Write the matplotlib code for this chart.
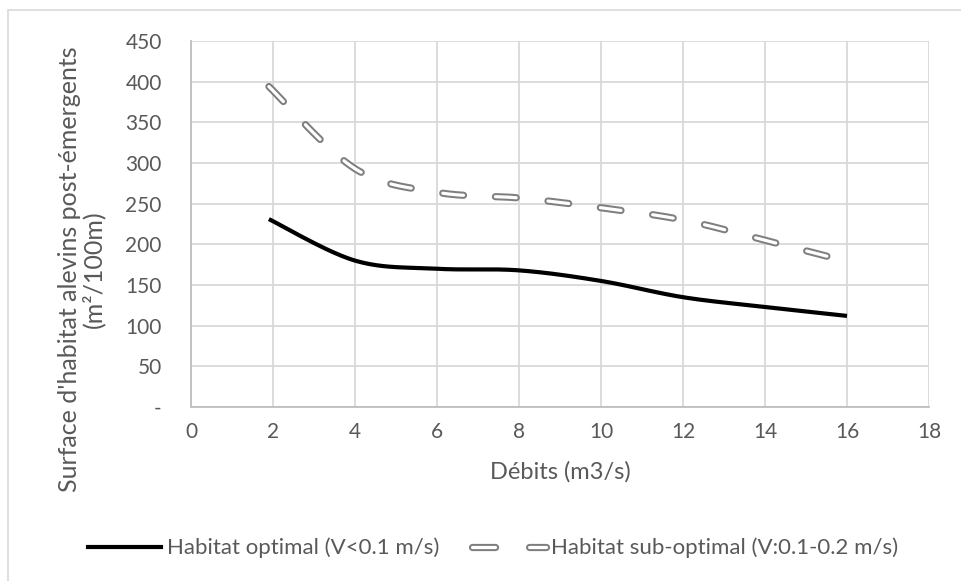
import numpy as np
import matplotlib
matplotlib.use("Agg")
import matplotlib.pyplot as plt
from matplotlib.lines import Line2D
from matplotlib.patches import Rectangle

# data
debits = [1.9, 4, 6, 8, 10, 12, 14, 16]
habitat_optimal = [231, 180, 170, 168, 155, 135, 123, 112]
habitat_sub_optimal = [394, 293, 264, 257, 245, 230, 205, 179]

y_ticks = [0, 50, 100, 150, 200, 250, 300, 350, 400, 450]
y_tick_labels = ['-', '50', '100', '150', '200', '250', '300', '350', '400', '450']
x_ticks = [0, 2, 4, 6, 8, 10, 12, 14, 16, 18]

TEXT = '#595959'
GRID = '#d9d9d9'
plt.rcParams['font.family'] = ['Lato', 'DejaVu Sans']
plt.rcParams['lines.scale_dashes'] = False


def smooth(x, y, n=40):
    """Excel-like smoothed line (Catmull-Rom bezier through the points)."""
    p = np.column_stack([np.asarray(x, float), np.asarray(y, float)])
    t = np.linspace(0, 1, n)[:, None]
    pts = []
    for i in range(len(p) - 1):
        p0 = p[i - 1] if i > 0 else p[i]
        p3 = p[i + 2] if i + 2 < len(p) else p[i + 1]
        c1 = p[i] + (p[i + 1] - p0) / 6
        c2 = p[i + 1] - (p3 - p[i]) / 6
        seg = (1 - t) ** 3 * p[i] + 3 * (1 - t) ** 2 * t * c1 + 3 * (1 - t) * t ** 2 * c2 + t ** 3 * p[i + 1]
        pts.append(seg if i == 0 else seg[1:])
    pts = np.vstack(pts)
    return pts[:, 0], pts[:, 1]


W, H = 962, 581
fig = plt.figure(figsize=(W / 100, H / 100), dpi=100)
fig.patches.append(Rectangle((8 / W, -0.1), 1.2, 1 - 10 / H + 0.1, transform=fig.transFigure,
                             fill=False, edgecolor='#d9d9d9', linewidth=1.2))

ax = fig.add_axes([191 / W, (H - 407) / H, (929 - 191) / W, (407 - 41) / H])
ax.set_xlim(0, 18)
ax.set_ylim(0, 450)
ax.set_xticks(x_ticks)
ax.set_yticks(y_ticks)
ax.set_yticklabels(y_tick_labels)
ax.grid(True, color=GRID, linewidth=1.3)
ax.set_axisbelow(True)
for side in ['top', 'right']:
    ax.spines[side].set_visible(False)
for side in ['left', 'bottom']:
    ax.spines[side].set_color('#bfbfbf')
    ax.spines[side].set_linewidth(1.3)
ax.tick_params(length=0, labelsize=15, labelcolor=TEXT)
ax.tick_params(axis='y', pad=21)
ax.tick_params(axis='x', pad=11)

xs, ys = smooth(debits, habitat_optimal)
ax.plot(xs, ys, color='black', linewidth=3, solid_capstyle='butt', zorder=3)

xs, ys = smooth(debits, habitat_sub_optimal)
dash = (0, (15, 23))
ax.plot(xs, ys, color='#7f7f7f', linewidth=5.2, linestyle=dash, dash_capstyle='round', zorder=3)
ax.plot(xs, ys, color='white', linewidth=2.3, linestyle=dash, dash_capstyle='round', zorder=4)

ax.set_xlabel('Débits (m3/s)', fontsize=17, color=TEXT, va='center')
ax.xaxis.set_label_coords(0.5, -65 / 366)
ax.set_ylabel("Surface d'habitat alevins post-émergents\n(m²/100m)", fontsize=18,
              color=TEXT, linespacing=1.0)
ax.yaxis.set_label_coords(-86 / 738, 0.377)

leg_dash = (0, (16.6, 24.5))
h1 = Line2D([], [], color='black', linewidth=3)
h2 = (Line2D([], [], color='#7f7f7f', linewidth=5.2, linestyle=leg_dash, dash_capstyle='round'),
      Line2D([], [], color='white', linewidth=2.3, linestyle=leg_dash, dash_capstyle='round'))
fig.legend([h1, h2], ['Habitat optimal (V<0.1 m/s)', 'Habitat sub-optimal (V:0.1-0.2 m/s)'],
           loc='center', bbox_to_anchor=(493 / W, 1 - 548 / H), ncol=2, frameon=False,
           fontsize=16, labelcolor=TEXT, handlelength=3.3, handletextpad=0.23,
           columnspacing=1.5, borderpad=0, borderaxespad=0)

fig.savefig('out.png', dpi=100)
